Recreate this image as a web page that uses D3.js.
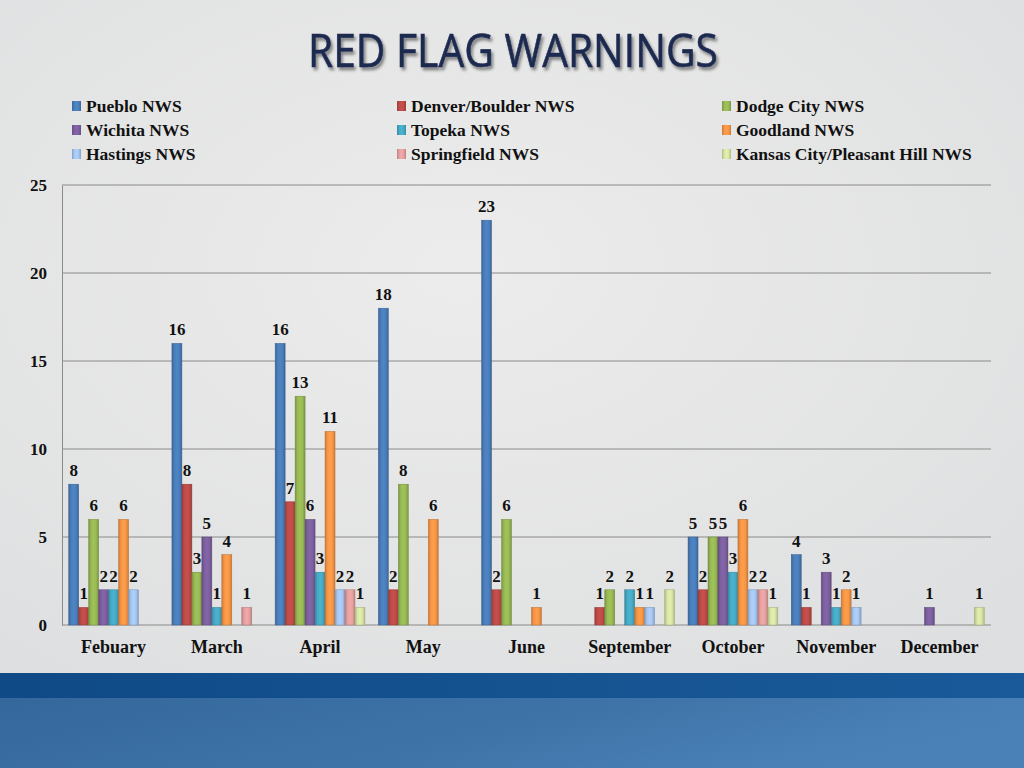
<!DOCTYPE html>
<html>
<head>
<meta charset="utf-8">
<script src="https://cdn.jsdelivr.net/npm/d3@7"></script>
<style>
  html, body { margin: 0; padding: 0; background: #e4e4e4; }
  svg { display: block; }
  .lbl { font-family: "Liberation Serif", "DejaVu Serif", serif; font-weight: bold; fill: #111; }
</style>
</head>
<body>
<svg id="chart" width="1024" height="768"></svg>
<script>
// --- Data ---
const months = ["Febuary", "March", "April", "May", "June", "September", "October", "November", "December"];
const offices = ["Pueblo NWS", "Denver/Boulder NWS", "Dodge City NWS", "Wichita NWS", "Topeka NWS",
                 "Goodland NWS", "Hastings NWS", "Springfield NWS", "Kansas City/Pleasant Hill NWS"];
const officeColors = ["#4a7ebb", "#be4b48", "#98b954", "#7d60a0", "#46aac5",
                      "#f79646", "#a5c6f0", "#e6a0a0", "#d7e4a5"];
// one value per month for each office (null = no bar)
const pueblo      = [8, 16, 16, 18, 23, null, 5, 4, null];
const denver      = [1, 8, 7, 2, 2, 1, 2, 1, null];
const dodgeCity   = [6, 3, 13, 8, 6, 2, 5, null, null];
const wichita     = [2, 5, 6, null, null, null, 5, 3, 1];
const topeka      = [2, 1, 3, null, null, 2, 3, 1, null];
const goodland    = [6, 4, 11, 6, 1, 1, 6, 2, null];
const hastings    = [2, null, 2, null, null, 1, 2, 1, null];
const springfield = [null, 1, 2, null, null, null, 2, null, null];
const kansasCity  = [null, null, 1, null, null, 2, 1, null, 1];
const series = [pueblo, denver, dodgeCity, wichita, topeka, goodland, hastings, springfield, kansasCity];
const yTicks = [0, 5, 10, 15, 20, 25];

const svg = d3.select("#chart");
const defs = svg.append("defs");

// --- Background ---
const bg = defs.append("radialGradient").attr("id", "bgGrad").attr("cx", "45%").attr("cy", "40%").attr("r", "75%");
bg.append("stop").attr("offset", "0%").attr("stop-color", "#ececec");
bg.append("stop").attr("offset", "100%").attr("stop-color", "#dedfe0");
svg.append("rect").attr("width", 1024).attr("height", 673).attr("fill", "url(#bgGrad)");

const band = defs.append("linearGradient").attr("id", "bandGrad").attr("x1", 0).attr("x2", 1).attr("y1", 0).attr("y2", 0);
band.append("stop").attr("offset", "0%").attr("stop-color", "#0f4a86");
band.append("stop").attr("offset", "100%").attr("stop-color", "#1a5a9a");
const lower = defs.append("linearGradient").attr("id", "lowGrad").attr("x1", 0).attr("x2", 1).attr("y1", 0).attr("y2", 0.3);
lower.append("stop").attr("offset", "0%").attr("stop-color", "#34689d");
lower.append("stop").attr("offset", "60%").attr("stop-color", "#3f74a8");
lower.append("stop").attr("offset", "100%").attr("stop-color", "#4a82b8");
svg.append("rect").attr("y", 673).attr("width", 1024).attr("height", 25).attr("fill", "url(#bandGrad)");
svg.append("rect").attr("y", 698).attr("width", 1024).attr("height", 70).attr("fill", "url(#lowGrad)");

// --- Title ---
const shadow = defs.append("filter").attr("id", "titleShadow").attr("x", "-5%").attr("y", "-20%").attr("width", "110%").attr("height", "150%");
shadow.append("feDropShadow").attr("dx", 2).attr("dy", 3).attr("stdDeviation", 1.5).attr("flood-color", "#000").attr("flood-opacity", 0.45);
svg.append("text")
    .attr("x", 308).attr("y", 67)
    .attr("textLength", 410).attr("lengthAdjust", "spacingAndGlyphs")
    .attr("font-family", "'Liberation Sans Narrow', 'Open Sans', sans-serif")
    .attr("font-size", 46)
    .attr("fill", "#1d2a50")
    .attr("stroke", "#1d2a50").attr("stroke-width", 0.6)
    .attr("filter", "url(#titleShadow)")
    .text("RED FLAG WARNINGS");

// --- Bar gradients (bevelled look) ---
officeColors.forEach((c, i) => {
    const g = defs.append("linearGradient").attr("id", "bar" + i).attr("x1", 0).attr("x2", 1).attr("y1", 0).attr("y2", 0);
    const dark = d3.color(c).darker(0.6);
    const light = d3.color(c).brighter(0.15);
    g.append("stop").attr("offset", "0%").attr("stop-color", dark);
    g.append("stop").attr("offset", "25%").attr("stop-color", c);
    g.append("stop").attr("offset", "50%").attr("stop-color", light);
    g.append("stop").attr("offset", "75%").attr("stop-color", c);
    g.append("stop").attr("offset", "100%").attr("stop-color", dark);
});

// --- Scales ---
const margin = { left: 62, right: 991, top: 185, bottom: 625 };
const x0 = d3.scaleBand().domain(months).range([margin.left, margin.right]).paddingInner(0.13).paddingOuter(0.065);
const x1 = d3.scaleBand().domain(d3.range(offices.length)).range([0, x0.bandwidth()]);
const y = d3.scaleLinear().domain([0, 25]).range([margin.bottom, margin.top]);

// gridlines
svg.append("g").selectAll("line").data(yTicks).join("line")
    .attr("x1", margin.left).attr("x2", margin.right)
    .attr("y1", d => y(d)).attr("y2", d => y(d))
    .attr("stroke", "#8a8a8a").attr("stroke-width", 1);

// y axis
const yAxis = svg.append("g").attr("transform", `translate(${margin.left},0)`)
    .call(d3.axisLeft(y).tickValues(yTicks).tickSize(0).tickPadding(15));
yAxis.select(".domain").attr("stroke", "#8a8a8a");
yAxis.selectAll("text").attr("class", "lbl").attr("font-size", 17).attr("dy", "0.35em");

// x axis labels
const xAxis = svg.append("g").attr("transform", `translate(0,${margin.bottom})`)
    .call(d3.axisBottom(x0).tickSize(0).tickPadding(15));
xAxis.select(".domain").remove();
xAxis.selectAll("text").attr("class", "lbl").attr("font-size", 18).attr("dy", "0.71em");

// --- Bars ---
const cells = [];
months.forEach((m, mi) => {
    series.forEach((s, si) => {
        if (s[mi] != null) cells.push({ month: m, office: si, value: s[mi] });
    });
});

const bars = svg.append("g");
bars.selectAll("rect").data(cells).join("rect")
    .attr("x", d => x0(d.month) + x1(d.office))
    .attr("y", d => y(d.value))
    .attr("width", x1.bandwidth())
    .attr("height", d => y(0) - y(d.value))
    .attr("fill", d => `url(#bar${d.office})`)
    .attr("stroke", d => d3.color(officeColors[d.office]).darker(0.8))
    .attr("stroke-width", 0.5);

// value labels
svg.append("g").selectAll("text").data(cells).join("text")
    .attr("class", "lbl")
    .attr("font-size", 17)
    .attr("text-anchor", "middle")
    .attr("x", d => x0(d.month) + x1(d.office) + x1.bandwidth() / 2)
    .attr("y", d => y(d.value) - 8)
    .text(d => d.value);

// --- Legend ---
const legend = svg.append("g");
const legendItem = legend.selectAll("g").data(offices).join("g")
    .attr("transform", (d, i) => `translate(${72 + (i % 3) * 325},${106 + Math.floor(i / 3) * 24})`);
legendItem.append("rect")
    .attr("x", 0).attr("y", -5).attr("width", 9).attr("height", 10)
    .attr("fill", (d, i) => `url(#bar${i})`);
legendItem.append("text")
    .attr("class", "lbl")
    .attr("font-size", 17.5)
    .attr("x", 14).attr("dy", "0.35em")
    .text(d => d);
</script>
</body>
</html>
